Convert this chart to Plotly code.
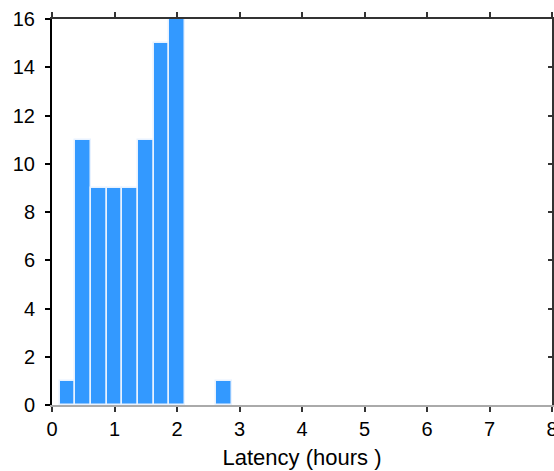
import plotly.graph_objects as go

# Data
bin_centers = [0.25, 0.5, 0.75, 1.0, 1.25, 1.5, 1.75, 2.0, 2.75]
counts = [1, 11, 9, 9, 9, 11, 15, 16, 1]
bin_width = 0.25
x_ticks = [0, 1, 2, 3, 4, 5, 6, 7, 8]
y_ticks = [0, 2, 4, 6, 8, 10, 12, 14, 16]
x_title = "Latency (hours )"

BAR_COLOR = "#3399ff"
FONT = "Liberation Sans, Arial, Helvetica, sans-serif"

fig = go.Figure()
fig.add_trace(go.Bar(
    x=bin_centers, y=counts, width=[bin_width] * len(bin_centers),
    marker=dict(color=BAR_COLOR, line=dict(color="#e8f2ff", width=1.5)),
    xaxis="x", yaxis="y", showlegend=False, hoverinfo="x+y",
))
# invisible helper trace to activate top/right frame axes
fig.add_trace(go.Scatter(
    x=[x_ticks[0]], y=[y_ticks[0]], xaxis="x2", yaxis="y2",
    mode="markers", marker=dict(opacity=0), showlegend=False, hoverinfo="skip",
))

fig.update_layout(
    width=554, height=471,
    margin=dict(l=52, r=2, t=19, b=66, autoexpand=False),
    paper_bgcolor="white", plot_bgcolor="white",
    font=dict(family=FONT, size=20, color="black"),
    bargap=0,
    xaxis=dict(
        range=[0, 8], tickvals=x_ticks, ticktext=[str(v) for v in x_ticks],
        showline=True, linecolor="#aaaaaa", linewidth=1.5,
        ticks="outside", ticklen=5, tickwidth=1.5, tickcolor="#333333",
        showgrid=False, zeroline=False, layer="below traces",
        ticklabeloverflow="allow", automargin=False,
        title=dict(text=x_title, font=dict(size=22), standoff=11),
        tickfont=dict(size=20),
    ),
    yaxis=dict(
        range=[0, 16], tickvals=y_ticks, ticktext=[str(v) for v in y_ticks],
        showline=True, linecolor="black", linewidth=2,
        ticks="outside", ticklen=5, tickwidth=1.5, tickcolor="black",
        showgrid=False, zeroline=False, layer="below traces",
        ticklabelstandoff=6, ticklabeloverflow="allow", automargin=False,
        tickfont=dict(size=20),
    ),
    xaxis2=dict(
        overlaying="x", side="top", range=[0, 8], tickvals=x_ticks,
        showticklabels=False, showline=True, linecolor="#333333", linewidth=1.5,
        ticks="outside", ticklen=5, tickwidth=1.5, tickcolor="#333333",
        showgrid=False, zeroline=False, layer="below traces", automargin=False,
    ),
    yaxis2=dict(
        overlaying="y", side="right", range=[0, 16], tickvals=y_ticks,
        showticklabels=False, showline=True, linecolor="#333333", linewidth=2,
        ticks="inside", ticklen=4, tickwidth=1.5, tickcolor="#333333",
        showgrid=False, zeroline=False, layer="below traces", automargin=False,
    ),
)

fig.write_html(
    "out.html",
    config={"displayModeBar": False},
    post_script="document.body.style.margin='0';document.body.style.overflow='hidden';",
)
